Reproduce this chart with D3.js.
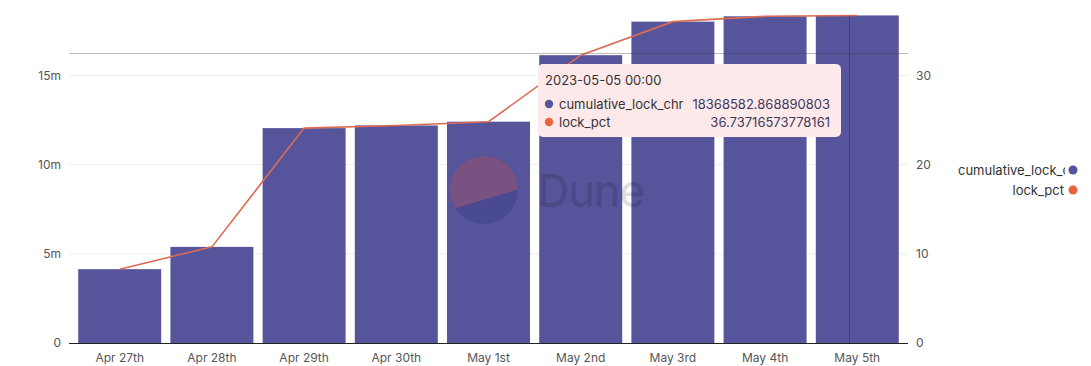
<!DOCTYPE html>
<html><head><meta charset="utf-8">
<script src="https://cdn.jsdelivr.net/npm/d3@7"></script>
<style>
html,body{margin:0;padding:0;background:#fff;}
svg{display:block;font-family:Inter,"Open Sans",sans-serif;}
</style></head>
<body><svg id="c" width="1091" height="366"></svg>
<script>
const categories = ["Apr 27th","Apr 28th","Apr 29th","Apr 30th","May 1st","May 2nd","May 3rd","May 4th","May 5th"];
const cumulativeLock = [4140000,5390000,12050000,12200000,12410000,16140000,18020000,18320000,18368582.868890803];
const lockPct = [8.28,10.78,24.1,24.4,24.82,32.28,36.04,36.64,36.73716573778161];
const leftTicks = [0,5e6,10e6,15e6];
const leftTickLabels = ["0","5m","10m","15m"];
const rightTicks = [0,10,20,30];
const seriesNames = ["cumulative_lock_chr","lock_pct"];
const tooltipTitle = "2023-05-05 00:00";
const tooltipValues = ["18368582.868890803","36.73716573778161"];

const barColor = "#56559b", lineColor = "#dc6b55", dotOrange = "#e8643c";
const svg = d3.select("#c");
const x0 = 69, x1 = 908, yBase = 343, yTop15 = 75.5;

const x = d3.scaleBand().domain(categories).range([x0, x1]).paddingInner(0.1).paddingOuter(0.1);
const yL = d3.scaleLinear().domain([0, 15e6]).range([yBase, yTop15]);
const yR = d3.scaleLinear().domain([0, 30]).range([yBase, yTop15]);

// gridlines
svg.append("g").selectAll("line").data(leftTicks.slice(1)).join("line")
  .attr("x1", x0).attr("x2", x1).attr("y1", d => yL(d)).attr("y2", d => yL(d))
  .attr("stroke", "#eeeeee").attr("stroke-width", 1);

// left axis labels
const la = svg.append("g").attr("transform", `translate(${x0},0)`)
  .call(d3.axisLeft(yL).tickValues(leftTicks).tickFormat((d,i) => leftTickLabels[i]).tickSize(0).tickPadding(8));
la.select(".domain").remove();
la.selectAll("text").attr("font-size", 12).attr("fill", "#555").attr("font-family", "Inter,sans-serif");

// right axis labels
const ra = svg.append("g").attr("transform", `translate(${x1},0)`)
  .call(d3.axisRight(yR).tickValues(rightTicks).tickSize(0).tickPadding(8));
ra.select(".domain").remove();
ra.selectAll("text").attr("font-size", 12).attr("fill", "#555").attr("font-family", "Inter,sans-serif");

// bars
svg.append("g").selectAll("rect").data(cumulativeLock).join("rect")
  .attr("x", (d,i) => x(categories[i])).attr("width", x.bandwidth())
  .attr("y", d => yL(d)).attr("height", d => yBase - yL(d))
  .attr("fill", barColor);

// baseline
svg.append("line").attr("x1", x0).attr("x2", x1).attr("y1", yBase + 0.5).attr("y2", yBase + 0.5)
  .attr("stroke", "#222").attr("stroke-width", 1.2);

// x axis labels
const xa = svg.append("g").attr("transform", `translate(0,${yBase})`)
  .call(d3.axisBottom(x).tickSize(0).tickPadding(10));
xa.select(".domain").remove();
xa.selectAll("text").attr("font-size", 12).attr("fill", "#555").attr("font-family", "Inter,sans-serif");

// watermark
const wm = svg.append("g");
const cx = 484, cy = 190, r = 34;
wm.append("defs").append("clipPath").attr("id","wmc").append("circle").attr("cx",cx).attr("cy",cy).attr("r",r);
wm.append("circle").attr("cx",cx).attr("cy",cy).attr("r",r).attr("fill","rgba(30,30,110,0.2)");
wm.append("path").attr("clip-path","url(#wmc)")
  .attr("d", `M${cx-r-2},${cy+20} L${cx+r+2},${cy-1} L${cx+r+2},${cy-r-2} L${cx-r-2},${cy-r-2} Z`)
  .attr("fill","rgba(225,100,95,0.32)");
wm.append("text").attr("x", 537).attr("y", 207).text("Dune")
  .attr("font-size", 45).attr("font-weight", 500).attr("fill", "rgba(0,0,0,0.12)")
  .attr("font-family", "Inter,sans-serif").attr("letter-spacing", -1.5);

// line
const line = d3.line().x((d,i) => x(categories[i]) + x.bandwidth()/2).y(d => yR(d));
svg.append("path").datum(lockPct).attr("d", line)
  .attr("fill", "none").attr("stroke", lineColor).attr("stroke-width", 1.6);

// crosshair
const lastIdx = categories.length - 1;
const lastX = x(categories[lastIdx]) + x.bandwidth()*0.4;
svg.append("line").attr("x1", Math.round(lastX)+0.5).attr("x2", Math.round(lastX)+0.5)
  .attr("y1", yL(cumulativeLock[lastIdx])).attr("y2", yBase).attr("stroke", "rgba(30,30,70,0.4)").attr("stroke-width", 1);
svg.append("line").attr("x1", x0).attr("x2", x1).attr("y1", 53.5).attr("y2", 53.5)
  .attr("stroke", "rgba(60,60,60,0.35)").attr("stroke-width", 1);

// tooltip
const tt = svg.append("g").attr("transform", "translate(538,64)");
tt.append("rect").attr("width", 303).attr("height", 73).attr("rx", 5).attr("fill", "#fde9ea");
tt.append("text").attr("x", 7).attr("y", 21).text(tooltipTitle)
  .attr("font-size", 13).attr("fill", "#333").attr("font-family", "Inter,sans-serif");
const dotCols = [barColor, dotOrange];
seriesNames.forEach((n,i) => {
  const yy = 40 + i*18;
  tt.append("circle").attr("cx", 11).attr("cy", yy).attr("r", 4.2).attr("fill", dotCols[i]);
  tt.append("text").attr("x", 21).attr("y", yy + 4.5).text(n)
    .attr("font-size", 13).attr("fill", "#333").attr("font-family", "Inter,sans-serif");
  tt.append("text").attr("x", 292).attr("y", yy + 4.5).attr("text-anchor", "end").text(tooltipValues[i])
    .attr("font-size", 13).attr("fill", "#3d3a5e").attr("font-family", "Inter,sans-serif");
});

// legend
const lg = svg.append("g");
lg.append("defs").append("clipPath").attr("id","lgc").append("rect")
  .attr("x", 900).attr("y", 150).attr("width", 165).attr("height", 60);
const lgTexts = lg.append("g").attr("clip-path","url(#lgc)");
lgTexts.append("text").attr("x", 958).attr("y", 174.5).text(seriesNames[0])
  .attr("font-size", 13).attr("fill", "#333").attr("font-family", "Inter,sans-serif");
lgTexts.append("text").attr("x", 1064).attr("y", 194.5).attr("text-anchor","end").text(seriesNames[1])
  .attr("font-size", 13).attr("fill", "#333").attr("font-family", "Inter,sans-serif");
lg.append("circle").attr("cx", 1073).attr("cy", 170).attr("r", 4.5).attr("fill", barColor);
lg.append("circle").attr("cx", 1073).attr("cy", 190).attr("r", 4.5).attr("fill", dotOrange);
</script></body></html>
